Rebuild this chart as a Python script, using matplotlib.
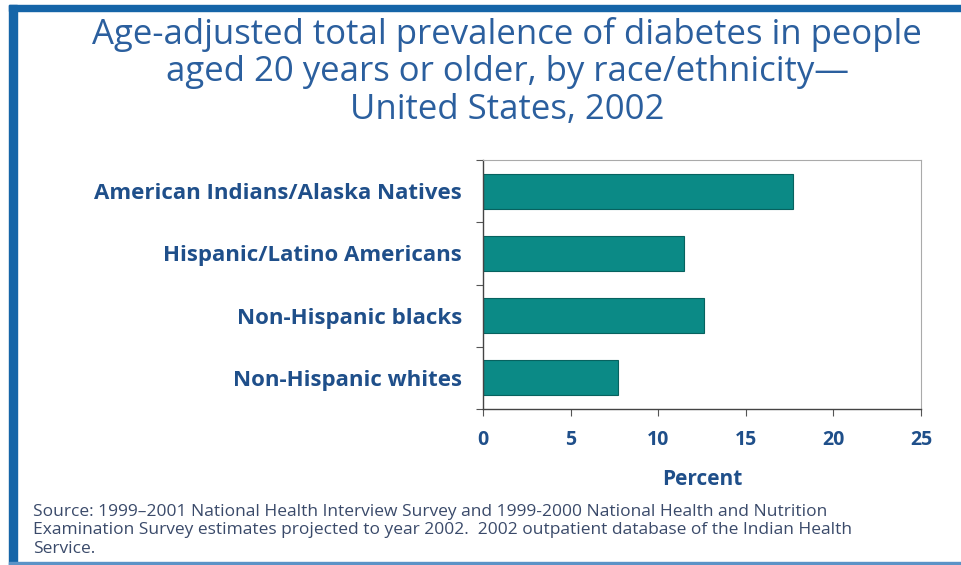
import matplotlib
matplotlib.use("Agg")
import matplotlib.pyplot as plt
from matplotlib.patches import Rectangle

# data
groups = ["American Indians/Alaska Natives", "Hispanic/Latino Americans",
          "Non-Hispanic blacks", "Non-Hispanic whites"]
percent = [17.7, 11.5, 12.6, 7.7]
xticks = [0, 5, 10, 15, 20, 25]

title = ("Age-adjusted total prevalence of diabetes in people\n"
         "aged 20 years or older, by race/ethnicity\u2014\n"
         "United States, 2002")
source = ("Source: 1999\u20132001 National Health Interview Survey and 1999-2000 National Health and Nutrition\n"
          "Examination Survey estimates projected to year 2002.  2002 outpatient database of the Indian Health\n"
          "Service.")

blue = "#1f4f8a"
teal = "#0b8a86"


def main():
    plt.rcParams['font.family'] = ['Open Sans', 'DejaVu Sans']
    fig = plt.figure(figsize=(9.61, 5.65), dpi=100)

    # blue frame round the chart
    fig.patches.append(Rectangle((9 / 961, 0), 8 / 961, 1 - 5 / 565,
                                 transform=fig.transFigure, color="#1565a8", zorder=5))
    fig.patches.append(Rectangle((9 / 961, 1 - 11 / 565), 1, 6 / 565,
                                 transform=fig.transFigure, color="#1565a8", zorder=5))
    fig.patches.append(Rectangle((9 / 961, 0), 1, 3 / 565,
                                 transform=fig.transFigure, color="#5b93c7", zorder=5))

    ax = fig.add_axes([483 / 961, 1 - 409 / 565, 438 / 961, 249 / 565])
    y = list(range(len(groups)))
    ax.barh(y, percent, height=0.56, color=teal, edgecolor="#07625f", linewidth=0.8)

    ax.set_xlim(0, 25)
    ax.set_ylim(len(groups) - 0.5, -0.5)
    ax.set_xticks(xticks)
    ax.set_xticklabels([str(t) for t in xticks], fontsize=14, fontweight='bold', color=blue)
    ax.set_yticks([i - 0.5 for i in range(len(groups) + 1)])
    ax.set_yticklabels([])
    ax.set_yticks(y, minor=True)
    ax.set_yticklabels(groups, minor=True, fontsize=16, fontweight='bold', color=blue)
    ax.tick_params(axis='y', which='minor', length=0, pad=15)
    ax.tick_params(axis='y', which='major', length=5, color="#555555")
    ax.tick_params(axis='x', length=5, pad=10, color="#555555")

    for side in ["top", "right"]:
        ax.spines[side].set_color("#aaaaaa")
        ax.spines[side].set_linewidth(0.8)
    for side in ["left", "bottom"]:
        ax.spines[side].set_color("#444444")
        ax.spines[side].set_linewidth(1.0)

    ax.set_xlabel("Percent", fontsize=15, fontweight='bold', color=blue, labelpad=14)

    fig.text(0.528, 1 - 17 / 565, title, ha='center', va='top', fontsize=25,
             color="#2b5f9e", linespacing=1.13)
    fig.text(33 / 961, 1 - 504 / 565, source, ha='left', va='top', fontsize=12.5,
             color="#3a4a6a", linespacing=1.2)

    fig.savefig("out.png", dpi=100)


if __name__ == "__main__":
    main()
